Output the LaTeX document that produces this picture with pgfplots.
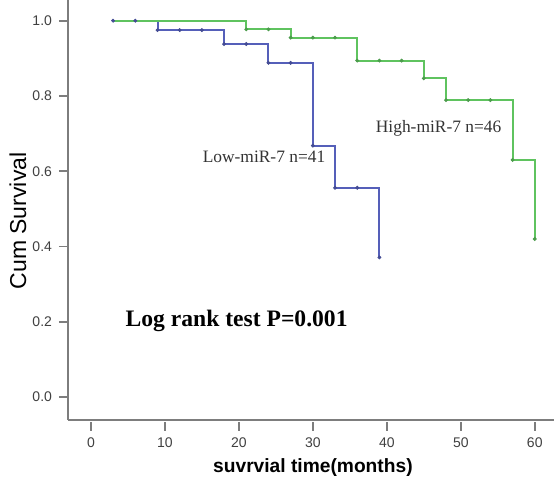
\documentclass[border=0pt]{standalone}
\usepackage{pgfplots}
\pgfplotsset{compat=1.18}
\usepackage{fontspec}
\setmainfont{Liberation Serif}
\newfontfamily\arial{Liberation Sans}
\definecolor{kmgreen}{RGB}{95,195,95}
\definecolor{kmblue}{RGB}{85,95,185}
\definecolor{axgray}{RGB}{125,125,125}
\begin{document}
\begin{tikzpicture}
\useasboundingbox (0,0) rectangle (277pt,241pt);
\begin{axis}[
  at={(34pt,31pt)}, anchor=south west,
  scale only axis, width=243pt, height=210pt,
  xmin=-3.1, xmax=62.6, ymin=-0.061, ymax=1.055,
  axis x line=bottom, axis y line=left,
  axis line style={axgray, line width=0.9pt, -},
  xtick={0,10,...,60}, ytick={0,0.2,...,1.0},
  yticklabel style={/pgf/number format/fixed,/pgf/number format/precision=1,/pgf/number format/fixed zerofill},
  /pgf/number format/assume math mode=true,
  tick label style={font=\arial\fontsize{7}{8}\selectfont, text=black!75},
  tick style={axgray, line width=0.9pt},
  xtick style={yshift=-0.8pt},
  tick align=outside,
  major tick length=4.5pt,
  x tick label style={yshift=-1pt},
  xlabel={suvrvial time(months)},
  ylabel={Cum Survival},
  xlabel style={font=\arial\bfseries\fontsize{9.6}{12}\selectfont, at={(axis description cs:0.504,0)}, anchor=center, yshift=-24pt},
  ylabel style={font=\arial\fontsize{11.5}{13}\selectfont, at={(axis description cs:-0.103,0.474)}, anchor=center},
  clip=false,
]
% Low-miR-7 (blue)
\addplot[const plot, kmblue, line width=1pt, mark=none] coordinates {
(3,1.0) (9,0.975) (18,0.938) (24,0.888) (30,0.668) (33,0.556) (39,0.371)};
% High-miR-7 (green)
\addplot[const plot, kmgreen, line width=1pt, mark=none] coordinates {
(3,1.0) (21,0.977) (27,0.955) (36,0.894) (45,0.847) (48,0.789) (57,0.630) (60,0.420)};
\addplot[only marks, kmgreen!80!black, mark=*, mark size=0.75pt] coordinates {
(21,0.977) (24,0.977) (27,0.955) (30,0.955) (33,0.955) (36,0.894) (39,0.894) (42,0.894) (45,0.847) (48,0.789) (51,0.789) (54,0.789) (57,0.630) (60,0.420)};
\addplot[only marks, kmblue!80!black, mark=*, mark size=0.75pt] coordinates {
(3,1.0) (6,1.0) (9,0.975) (12,0.975) (15,0.975) (18,0.938) (21,0.938) (24,0.888) (27,0.888) (30,0.668) (33,0.556) (36,0.556) (39,0.371)};
\node[font=\fontsize{8.7}{10}\selectfont, text=black!80] at (axis cs:23.4,0.638) {Low-miR-7 n=41};
\node[font=\fontsize{8.7}{10}\selectfont, text=black!80] at (axis cs:47,0.714) {High-miR-7 n=46};
\node[font=\bfseries\fontsize{11.8}{13}\selectfont] at (axis cs:19.7,0.201) {Log rank test P=0.001};
\end{axis}
\end{tikzpicture}
\end{document}
